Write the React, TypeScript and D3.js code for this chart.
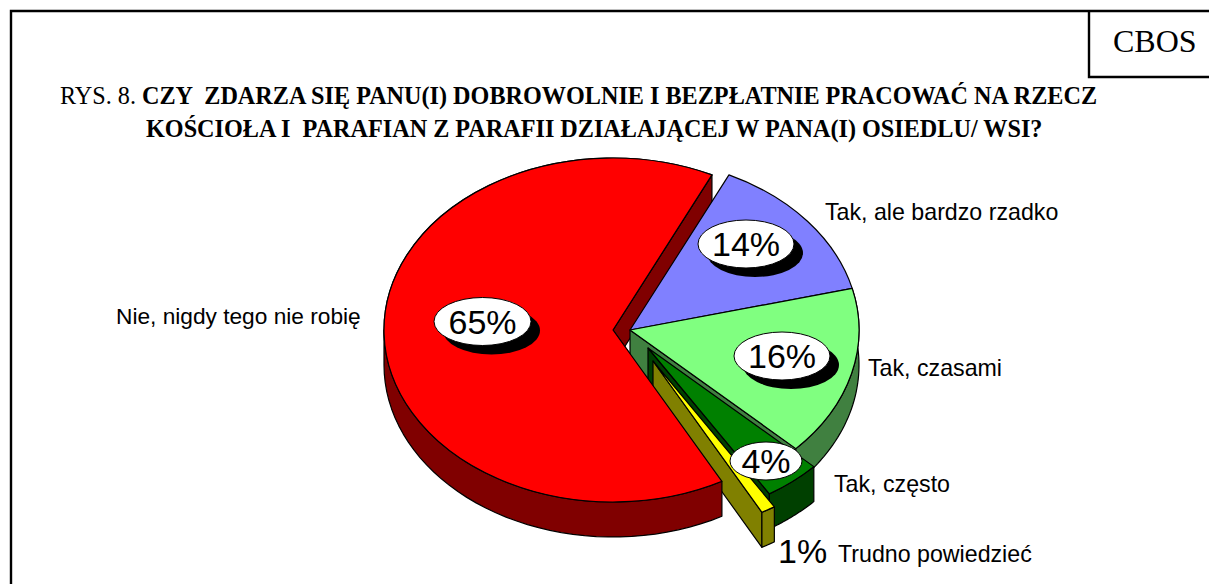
import React from 'react';
import * as d3 from 'd3';

const categories = ['Tak, ale bardzo rzadko', 'Tak, czasami', 'Tak, często', 'Trudno powiedzieć', 'Nie, nigdy tego nie robię'];
const values = [14, 16, 4, 1, 65];
const topColors = ['#8080ff', '#80ff80', '#008000', '#ffff00', '#ff0000'];
const wallColors = ['#404080', '#408040', '#004000', '#808000', '#800000'];
// where each exploded slice has its apex
const apexX = [630, 630, 648, 653, 613];
const apexY = [330, 330, 348, 361, 330];
const titleLine1 = 'CZY  ZDARZA SIĘ PANU(I) DOBROWOLNIE I BEZPŁATNIE PRACOWAĆ NA RZECZ';
const titleLine2 = 'KOŚCIOŁA I  PARAFIAN Z PARAFII DZIAŁAJĄCEJ W PANA(I) OSIEDLU/ WSI?';

const width = 1209;
const height = 584;
const rx = 229;
const ry = 172;
const depth = 35;
const startAngle = (25.6 * Math.PI) / 180;

const pie = d3.pie<number>().sort(null).startAngle(startAngle).endAngle(startAngle + 2 * Math.PI);
const slices = pie(values);
const arc = d3.arc<d3.PieArcDatum<number>>().innerRadius(0).outerRadius(rx);

const point = (i: number, t: number, dy = 0): [number, number] => [
  apexX[i] + rx * Math.sin(t),
  apexY[i] - ry * Math.cos(t) + dy,
];

const line = d3.line();

// outer wall of a slice between angles a and b
const wallPath = (i: number, a: number, b: number) => {
  const ts = d3.range(0, 41).map((k) => a + ((b - a) * k) / 40);
  const top = ts.map((t) => point(i, t));
  const bottom = ts.map((t) => point(i, t, depth)).reverse();
  return line([...top, ...bottom]) + 'Z';
};

// flat cut face going from the apex to the rim at angle t
const cutPath = (i: number, t: number) => {
  const rim = point(i, t);
  const rimLow = point(i, t, depth);
  return line([[apexX[i], apexY[i]], rim, rimLow, [apexX[i], apexY[i] + depth]]) + 'Z';
};

const Slice = ({ i, cut, wall }: { i: number; cut?: number; wall?: [number, number] }) => (
  <g stroke="#000" strokeWidth={1.2} strokeLinejoin="round">
    {cut !== undefined && <path d={cutPath(i, cut)} fill={wallColors[i]} />}
    {wall && <path d={wallPath(i, wall[0], wall[1])} fill={wallColors[i]} />}
    <path
      d={arc(slices[i]) as string}
      fill={topColors[i]}
      transform={`translate(${apexX[i]},${apexY[i]}) scale(1,${ry / rx})`}
      vectorEffect="non-scaling-stroke"
    />
  </g>
);

const Bubble = ({ cx, cy, w, h, text, shadow = 9 }: { cx: number; cy: number; w: number; h: number; text: string; shadow?: number }) => (
  <g>
    {shadow > 0 && <ellipse cx={cx + shadow} cy={cy + shadow} rx={w} ry={h} fill="#000" />}
    <ellipse cx={cx} cy={cy} rx={w} ry={h} fill="#fff" stroke="#000" strokeWidth={1} />
    <text x={cx} y={cy + 12} textAnchor="middle" fontSize={34}>{text}</text>
  </g>
);

export default function App() {
  const [blue, green, dark, yellow, red] = slices;
  return (
    <svg
      width={width}
      height={height}
      viewBox={`0 0 ${width} ${height}`}
      style={{ position: 'absolute', left: 0, top: 0, background: '#fff' }}
      fontFamily="'Liberation Sans', Arial, sans-serif"
    >
      <path d="M11,584V11H1209" fill="none" stroke="#000" strokeWidth={2.4} />
      <path d="M1209,77H1089V11" fill="none" stroke="#000" strokeWidth={2.4} />
      <text x={1113} y={52} fontFamily="'Liberation Serif', serif" fontSize={32}>CBOS</text>

      <g fontFamily="'Liberation Serif', serif" fontSize={24.2}>
        <text x={60} y={104} xmlSpace="preserve">
          RYS. 8. <tspan fontWeight="bold">{titleLine1}</tspan>
        </text>
        <text x={146} y={137} fontWeight="bold" xmlSpace="preserve">{titleLine2}</text>
      </g>

      <Slice i={4} cut={red.endAngle - 2 * Math.PI} />
      <Slice i={0} />
      <Slice i={1} cut={green.endAngle} wall={[green.startAngle, green.endAngle]} />
      <Slice i={2} cut={dark.endAngle} wall={[dark.startAngle, dark.endAngle]} />
      <Slice i={3} cut={yellow.endAngle} wall={[yellow.startAngle, yellow.endAngle]} />
      <Slice i={4} wall={[red.startAngle, (270 * Math.PI) / 180]} />

      <Bubble cx={482.5} cy={321.5} w={48.5} h={24} text={`${values[4]}%`} />
      <Bubble cx={746} cy={244} w={48} h={24} text={`${values[0]}%`} />
      <Bubble cx={782} cy={356} w={48} h={24} text={`${values[1]}%`} />
      <Bubble cx={766} cy={461} w={36} h={19} text={`${values[2]}%`} shadow={0} />
      <text x={778} y={563} fontSize={34}>{values[3]}%</text>

      <g fontSize={23.2}>
        <text x={825} y={220}>{categories[0]}</text>
        <text x={868} y={376}>{categories[1]}</text>
        <text x={834} y={492}>{categories[2]}</text>
        <text x={838} y={562}>{categories[3]}</text>
        <text x={116} y={324} fontSize={22.7}>{categories[4]}</text>
      </g>
    </svg>
  );
}
